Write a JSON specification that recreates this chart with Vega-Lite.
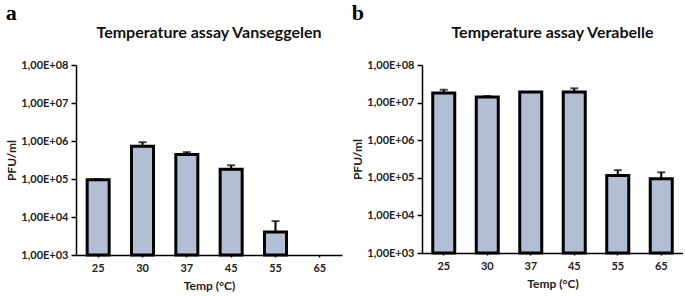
{
  "$schema": "https://vega.github.io/schema/vega-lite/v6.json",
  "background": "white",
  "padding": {"left": 5, "top": 2, "right": 0, "bottom": 2},
  "spacing": 9,
  "config": {
    "view": {"stroke": null},
    "axis": {
      "labelFont": "Lato", "labelFontWeight": "bold", "labelFontSize": 11, "labelColor": "#222",
      "titleFont": "Lato", "titleFontWeight": "bold", "titleFontSize": 12, "titleColor": "#222",
      "domainColor": "black", "domainWidth": 1.5, "tickColor": "black", "tickWidth": 1.5, "grid": false
    }
  },
  "hconcat": [
    {
      "title": {"text": "a", "anchor": "start", "font": "Liberation Serif", "fontSize": 22, "fontWeight": "bold", "offset": 0, "frame": "bounds"},
      "vconcat": [
        {
          "width": 266, "height": 190,
          "title": {"text": "Temperature assay Vanseggelen", "font": "Lato", "fontSize": 16, "fontWeight": "bold", "offset": 18, "color": "#111"},
          "data": {"values": [
            {"temp": 25, "pfu": 95000, "err": 100000},
            {"temp": 30, "pfu": 730000, "err": 930000},
            {"temp": 37, "pfu": 440000, "err": 510000},
            {"temp": 45, "pfu": 180000, "err": 230000},
            {"temp": 55, "pfu": 4000, "err": 7800},
            {"temp": 65, "pfu": null, "err": null}
          ]},
          "encoding": {
            "x": {"field": "temp", "type": "ordinal", "scale": {"domain": [25, 30, 37, 45, 55, 65]},
                  "axis": {"title": "Temp (°C)", "labelAngle": 0, "ticks": true, "tickSize": 2, "labelPadding": 5, "titlePadding": 7}}
          },
          "layer": [
            {"mark": {"type": "bar", "fill": "#b1bed3", "stroke": "black", "strokeWidth": 3, "size": 22},
             "encoding": {
               "y": {"field": "pfu", "type": "quantitative", "scale": {"type": "log", "domain": [1000, 100000000]},
                     "axis": {"title": "PFU/ml", "values": [1000, 10000, 100000, 1000000, 10000000, 100000000], "labelExpr": "'1,00E+0' + round(log(datum.value)/LN10)", "tickSize": 5, "labelPadding": 3, "titlePadding": 2}},
               "y2": {"datum": 1000}
             }},
            {"mark": {"type": "rule", "color": "black", "strokeWidth": 2},
             "encoding": {"y": {"field": "pfu", "type": "quantitative"}, "y2": {"field": "err"}}},
            {"mark": {"type": "tick", "color": "black", "thickness": 2, "size": 8, "orient": "horizontal"},
             "encoding": {"y": {"field": "err", "type": "quantitative"}}}
          ]
        }
      ]
    },
    {
      "title": {"text": "b", "anchor": "start", "font": "Liberation Serif", "fontSize": 22, "fontWeight": "bold", "offset": 0, "frame": "bounds"},
      "vconcat": [
        {
          "width": 261, "height": 188,
          "title": {"text": "Temperature assay Verabelle", "font": "Lato", "fontSize": 16, "fontWeight": "bold", "offset": 18, "color": "#111"},
          "data": {"values": [
            {"temp": 25, "pfu": 18000000, "err": 22000000},
            {"temp": 30, "pfu": 14000000, "err": 15000000},
            {"temp": 37, "pfu": 19000000, "err": null},
            {"temp": 45, "pfu": 19000000, "err": 24000000},
            {"temp": 55, "pfu": 115000, "err": 160000},
            {"temp": 65, "pfu": 95000, "err": 140000}
          ]},
          "encoding": {
            "x": {"field": "temp", "type": "ordinal", "scale": {"domain": [25, 30, 37, 45, 55, 65]},
                  "axis": {"title": "Temp (°C)", "labelAngle": 0, "ticks": true, "tickSize": 2, "labelPadding": 5, "titlePadding": 7}}
          },
          "layer": [
            {"mark": {"type": "bar", "fill": "#b1bed3", "stroke": "black", "strokeWidth": 3, "size": 22},
             "encoding": {
               "y": {"field": "pfu", "type": "quantitative", "scale": {"type": "log", "domain": [1000, 100000000]},
                     "axis": {"title": "PFU/ml", "values": [1000, 10000, 100000, 1000000, 10000000, 100000000], "labelExpr": "'1,00E+0' + round(log(datum.value)/LN10)", "tickSize": 5, "labelPadding": 3, "titlePadding": 2}},
               "y2": {"datum": 1000}
             }},
            {"mark": {"type": "rule", "color": "black", "strokeWidth": 2},
             "encoding": {"y": {"field": "pfu", "type": "quantitative"}, "y2": {"field": "err"}}},
            {"mark": {"type": "tick", "color": "black", "thickness": 2, "size": 8, "orient": "horizontal"},
             "encoding": {"y": {"field": "err", "type": "quantitative"}}}
          ]
        }
      ]
    }
  ]
}
